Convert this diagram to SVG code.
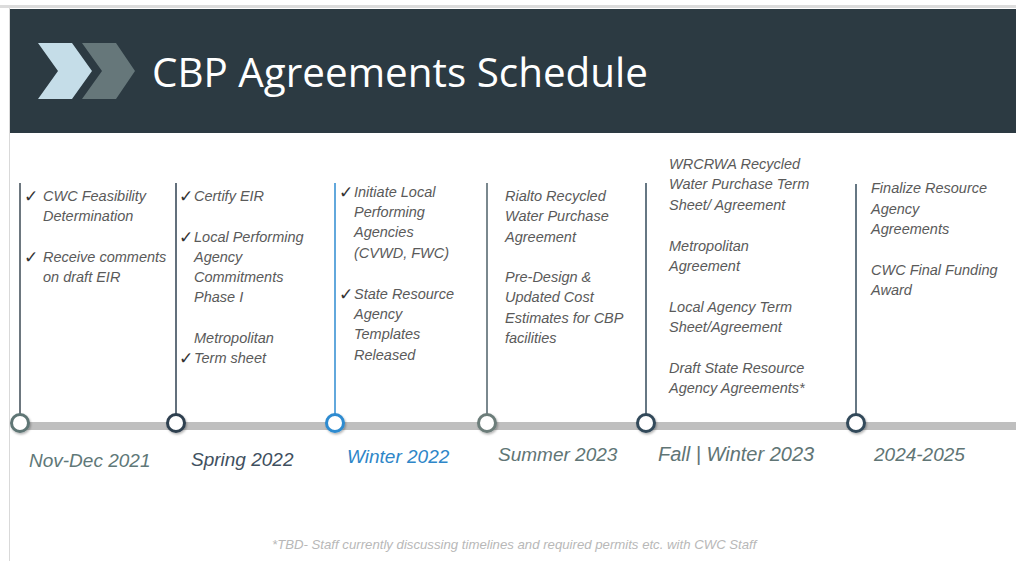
<svg xmlns="http://www.w3.org/2000/svg" width="1016" height="561" viewBox="0 0 1016 561">
<style>
.t{font-family:"Liberation Sans",Arial,sans-serif;font-style:italic;font-size:14.5px;fill:#5a5a5a}
.ck{font-family:"DejaVu Sans",sans-serif;font-style:normal;font-size:17px;fill:#333}
.lbl{font-family:"Liberation Sans",Arial,sans-serif;font-style:italic;font-size:19px}
.vl{stroke-width:1.5}
.dot{fill:#fff;stroke-width:3}
</style>
<defs>
<filter id="sh" x="-50%" y="-50%" width="200%" height="200%">
<feDropShadow dx="1" dy="1.5" stdDeviation="1.2" flood-color="#000" flood-opacity="0.3"/>
</filter>
</defs>
<rect width="1016" height="561" fill="#fff"/>
<line x1="0" y1="6.5" x2="1016" y2="6.5" stroke="#dcdcdc" stroke-width="3"/>
<line x1="9.5" y1="8" x2="9.5" y2="561" stroke="#d9d9d9" stroke-width="1"/>
<g id="header">
<rect x="10" y="9" width="1006" height="124" fill="#2c3a42"/>
<polygon points="38,43 72,43 92,71 72,99 38,99 58,71" fill="#c5dde8"/>
<polygon points="82,43 116,43 135,71 116,99 82,99 102,71" fill="#66777a"/>
<text x="152" y="87" font-family="'Open Sans',sans-serif" font-size="40.4" fill="#fff">CBP Agreements Schedule</text>
</g>
<g id="connectors">
<rect x="20" y="422" width="996" height="8" fill="#bfbfbf"/>
<line class="vl" x1="20" y1="183" x2="20" y2="414" stroke="#3d4a54"/>
<line class="vl" x1="176" y1="183" x2="176" y2="414" stroke="#2f4050"/>
<line class="vl" x1="335" y1="183" x2="335" y2="414" stroke="#2e8bd0"/>
<line class="vl" x1="487" y1="183" x2="487" y2="414" stroke="#4e6068"/>
<line class="vl" x1="646" y1="183" x2="646" y2="414" stroke="#334a5a"/>
<line class="vl" x1="856" y1="184" x2="856" y2="414" stroke="#334a5a"/>
</g>
<g id="m1">
<circle class="dot" cx="20" cy="423" r="8.5" stroke="#5f7675" filter="url(#sh)"/>
<text class="ck" x="24" y="202">✓</text>
<text class="t" x="43" y="201">CWC Feasibility</text>
<text class="t" x="43" y="221">Determination</text>
<text class="ck" x="24" y="263">✓</text>
<text class="t" x="43" y="262">Receive comments</text>
<text class="t" x="43" y="282">on draft EIR</text>
<text class="lbl" x="29" y="467" fill="#607878">Nov-Dec 2021</text>
</g>
<g id="m2">
<circle class="dot" cx="176" cy="423" r="8.5" stroke="#2f4050" filter="url(#sh)"/>
<text class="ck" x="179" y="202">✓</text>
<text class="t" x="194" y="201">Certify EIR</text>
<text class="ck" x="179" y="243">✓</text>
<text class="t" x="194" y="242">Local Performing</text>
<text class="t" x="194" y="262">Agency</text>
<text class="t" x="194" y="282">Commitments</text>
<text class="t" x="194" y="302">Phase I</text>
<text class="t" x="194" y="343">Metropolitan</text>
<text class="ck" x="179" y="364">✓</text>
<text class="t" x="194" y="363">Term sheet</text>
<text class="lbl" x="191" y="466" fill="#3f5060">Spring 2022</text>
</g>
<g id="m3">
<circle class="dot" cx="335" cy="423" r="8.5" stroke="#2e8bd0" filter="url(#sh)"/>
<text class="ck" x="339" y="198">✓</text>
<text class="t" x="354" y="197">Initiate Local</text>
<text class="t" x="354" y="217">Performing</text>
<text class="t" x="354" y="237">Agencies</text>
<text class="t" x="354" y="258">(CVWD, FWC)</text>
<text class="ck" x="339" y="300">✓</text>
<text class="t" x="354" y="299">State Resource</text>
<text class="t" x="354" y="319">Agency</text>
<text class="t" x="354" y="339">Templates</text>
<text class="t" x="354" y="360">Released</text>
<text class="lbl" x="347" y="463" fill="#2e86c8">Winter 2022</text>
</g>
<g id="m4">
<circle class="dot" cx="487" cy="423" r="8.5" stroke="#6c7d7a" filter="url(#sh)"/>
<text class="t" x="505" y="201">Rialto Recycled</text>
<text class="t" x="505" y="221">Water Purchase</text>
<text class="t" x="505" y="242">Agreement</text>
<text class="t" x="505" y="282">Pre-Design &amp;</text>
<text class="t" x="505" y="302">Updated Cost</text>
<text class="t" x="505" y="323">Estimates for CBP</text>
<text class="t" x="505" y="343">facilities</text>
<text class="lbl" x="498" y="461" fill="#607575">Summer 2023</text>
</g>
<g id="m5">
<circle class="dot" cx="646" cy="423" r="8.5" stroke="#334a5a" filter="url(#sh)"/>
<text class="t" x="669" y="169">WRCRWA Recycled</text>
<text class="t" x="669" y="189">Water Purchase Term</text>
<text class="t" x="669" y="210">Sheet/ Agreement</text>
<text class="t" x="669" y="251">Metropolitan</text>
<text class="t" x="669" y="271">Agreement</text>
<text class="t" x="669" y="312">Local Agency Term</text>
<text class="t" x="669" y="332">Sheet/Agreement</text>
<text class="t" x="669" y="373">Draft State Resource</text>
<text class="t" x="669" y="393">Agency Agreements*</text>
<text class="lbl" x="658" y="461" style="font-size:20px" fill="#607575">Fall | Winter 2023</text>
</g>
<g id="m6">
<circle class="dot" cx="856" cy="423" r="8.5" stroke="#334a5a" filter="url(#sh)"/>
<text class="t" x="871" y="193">Finalize Resource</text>
<text class="t" x="871" y="214">Agency</text>
<text class="t" x="871" y="234">Agreements</text>
<text class="t" x="871" y="275">CWC Final Funding</text>
<text class="t" x="871" y="295">Award</text>
<text class="lbl" x="874" y="461" fill="#607575">2024-2025</text>
</g>
<text x="272" y="549" font-family="'Liberation Sans',Arial,sans-serif" font-style="italic" font-size="13.2" fill="#b8b8b8">*TBD- Staff currently discussing timelines and required permits etc. with CWC Staff</text>
</svg>
